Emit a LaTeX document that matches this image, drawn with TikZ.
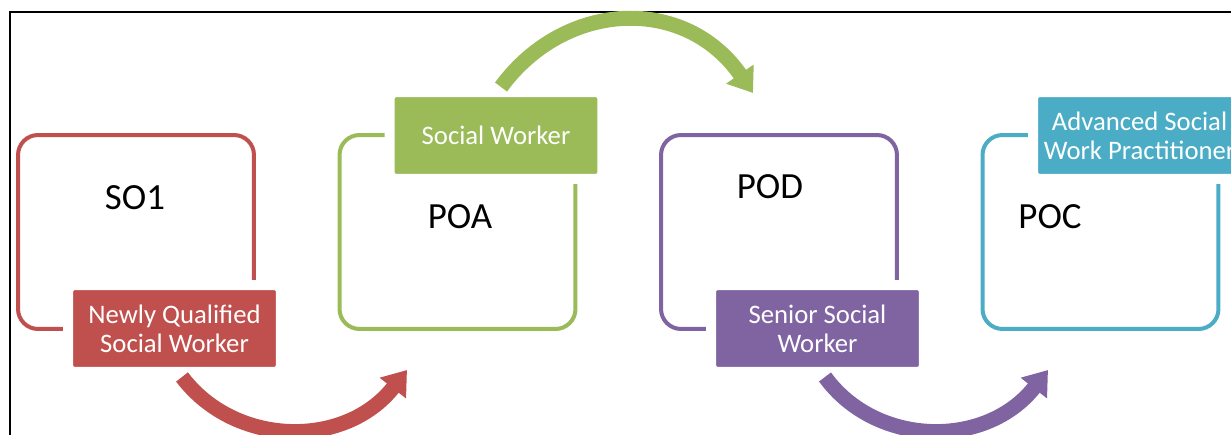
\documentclass[tikz,border=0pt]{standalone}
\usepackage{fontspec}
\setmainfont{Carlito}
\usetikzlibrary{
    arrows.meta,
    positioning
}
\definecolor{stagered}{HTML}{C0504D}
\definecolor{stagegreen}{HTML}{9BBB59}
\definecolor{stagepurple}{HTML}{8064A2}
\definecolor{stagecyan}{HTML}{4BACC6}
\tikzset{
    stage/.style={draw=#1, line width=0.08cm, rounded corners=0.4cm,
        minimum width=4.72cm, minimum height=3.88cm},
    tag/.style={fill=#1, draw=white, line width=0.2cm, rounded corners=0.14cm,
        minimum width=4.26cm, minimum height=1.74cm, text=white, align=center,
        font=\fontsize{15.2}{16.6}\selectfont},
    grade/.style={font=\fontsize{21}{25}\selectfont},
    flow/.style={draw=#1, line width=0.3cm, -{Triangle[length=0.46cm,width=0.64cm]}}
}

\begin{document}
\begin{tikzpicture}[x=0.02cm, y=-0.02cm]
                            \useasboundingbox (0,0) rectangle (1231,435);
                            \clip (0,0) rectangle (1231,435);
                            \draw[line width=0.04cm] (10,440) -- (10,12) -- (1240,12);

                            \node[stage=stagered] (s1) at (136,232) {};
                            \node[stage=stagegreen] (s2) at (457.5,232) {};
                            \node[stage=stagepurple] (s3) at (779,232) {};
                            \node[stage=stagecyan] (s4) at (1100.5,232) {};

                            \node[grade] (so1) at (135,198) {SO1};
                            \node[grade] (poa) at (460,217) {POA};
                            \node[grade] (pod) at (770,187) {POD};
                            \node[grade] (poc) at (1050,217) {POC};

                            \node[tag=stagered] (nq) at (174.5,328.5) {Newly Qualified\\Social Worker};
                            \node[tag=stagegreen] (sw) at (496,135.5) {Social Worker};
                            \node[tag=stagepurple] (ssw) at (817.5,328.5) {Senior Social\\Worker};
                            \node[tag=stagecyan] (asw) at (1139.5,135.5) {Advanced Social\\Work Practitioner};

                            \coordinate (tipA) at (407,370);
                            \coordinate (tipB) at (753,93);
                            \coordinate (tipC) at (1048,370);

                            \draw[flow=stagered] ([xshift=0.15cm]nq.south)
                            .. controls (235,447) and (345,449) .. (tipA);
                            \draw[flow=stagegreen] ([xshift=0.1cm]sw.north)
                            .. controls (565,0) and (685,-5) .. (tipB);
                            \draw[flow=stagepurple] ([xshift=0.15cm]ssw.south)
                            .. controls (876,447) and (986,449) .. (tipC);
                        \end{tikzpicture}
\end{document}
